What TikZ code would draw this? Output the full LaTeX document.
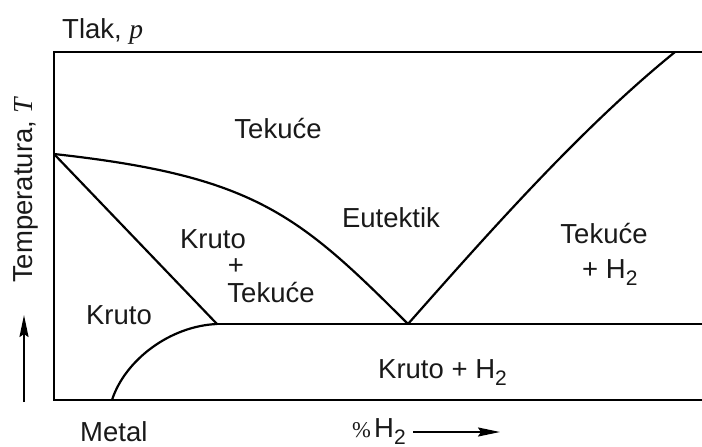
\documentclass[tikz,border=0pt]{standalone}
\usepackage{fontspec}
\usepackage{graphicx}
\setmainfont{Liberation Sans}
\newfontfamily\tnr{Liberation Serif}
\usetikzlibrary{arrows.meta}
\newcommand{\lbfont}{\fontsize{27.5}{32}\selectfont}
\newcommand{\sbs}[1]{\raisebox{-7pt}{\fontsize{21}{24}\selectfont #1}}
\begin{document}
\begin{tikzpicture}[x=1pt,y=-1pt,
  phase/.style={line width=2.2pt},
  lbl/.style={inner sep=0pt, font=\lbfont, text=black!90},
  axarrow/.style={line width=2pt, -{Stealth[length=22pt,width=9pt,inset=3pt]}}]
\useasboundingbox (0,0) rectangle (702,447);
% key points
\coordinate (TL) at (54,52);
\coordinate (TR) at (702,52);
\coordinate (BL) at (54,400);
\coordinate (BR) at (702,400);
\coordinate (M) at (54,154);
\coordinate (S) at (217,324);
\coordinate (E) at (408,324);
\coordinate (ER) at (702,324);
\coordinate (L2) at (675,52);
\coordinate (V) at (112,400);
% frame and phase lines
\draw[phase] (TR) -- (TL) -- (BL) -- (BR);
\draw[phase] (M) .. controls (254,176) and (298,214) .. (E);
\draw[phase] (M) -- (S);
\draw[phase] (S) -- (ER);
\draw[phase] (S) .. controls (170,326) and (125,360) .. (V);
\draw[phase] (E) .. controls (498,222) and (585,125) .. (L2);
% labels
\node[lbl, anchor=base west] (tlak) at (62,38) {Tlak, {\tnr\itshape p}};
\node[lbl, anchor=base west, rotate=90] (temp) at (32,283) {Temperatura, {\tnr\itshape T}};
\node[lbl, anchor=base] (tek1) at (278,138) {Tekuće};
\node[lbl, anchor=base] (kr1) at (213,248) {Kruto};
\node[lbl, anchor=base] (pl1) at (236,274) {+};
\node[lbl, anchor=base] (tek2) at (271,302) {Tekuće};
\node[lbl, anchor=base] (kr2) at (119,324) {Kruto};
\node[lbl, anchor=base] (eut) at (391,227) {Eutektik};
\node[lbl, anchor=base] (tek3) at (604,243) {Tekuće};
\node[lbl, anchor=base west] (pl3) at (582,278) {+ H\sbs{2}};
\node[lbl, anchor=base west] (krh) at (378,378) {Kruto + H\sbs{2}};
\node[lbl, anchor=base west] (metal) at (80,441) {Metal};
\node[lbl, anchor=base west] (pcts) at (352,437) {\scalebox{0.82}{\tnr\%}};
\node[lbl, anchor=base west] (pct) at (374,437) {H\sbs{2}};
% axis arrows
\coordinate (a1) at (413,432);
\coordinate (a2) at (500,432);
\draw[axarrow] (a1) -- (a2);
\coordinate (b1) at (24,402);
\coordinate (b2) at (24,315);
\draw[axarrow] (b1) -- (b2);
\end{tikzpicture}
\end{document}
